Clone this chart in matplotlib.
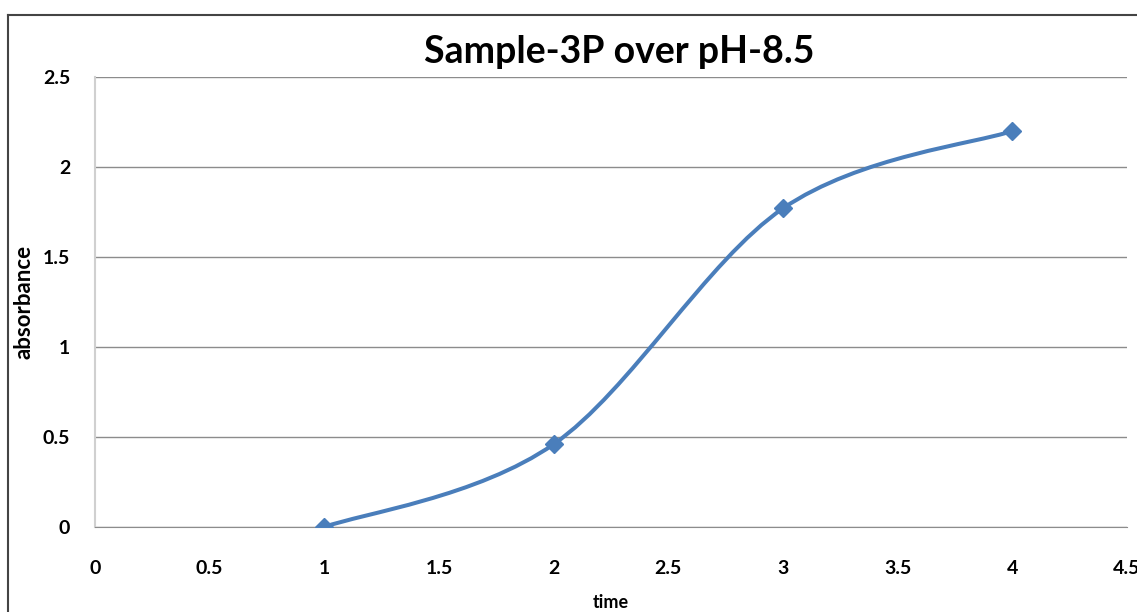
import matplotlib
matplotlib.use("Agg")
import matplotlib.pyplot as plt
import numpy as np
from matplotlib.path import Path
from matplotlib.patches import PathPatch
from matplotlib.lines import Line2D

time_vals = [1, 2, 3, 4]
absorbance = [0.0, 0.46, 1.77, 2.2]
x_ticks = [0, 0.5, 1, 1.5, 2, 2.5, 3, 3.5, 4, 4.5]
y_ticks = [0, 0.5, 1, 1.5, 2, 2.5]

plt.rcParams['font.family'] = ['Lato', 'DejaVu Sans']

fig = plt.figure(figsize=(11.37, 6.12), dpi=100)
ax = fig.add_axes([95/1137, 1-527/612, 1032/1137, 450/612])

# excel-style smoothed line: bezier segments through the points
pts = np.column_stack([time_vals, absorbance]).astype(float)
verts = [tuple(pts[0])]
codes = [Path.MOVETO]
n = len(pts)
for i in range(n-1):
    p0 = pts[max(i-1, 0)]
    p1 = pts[i]
    p2 = pts[i+1]
    p3 = pts[min(i+2, n-1)]
    c1 = p1 + (p2 - p0) / 6
    c2 = p2 - (p3 - p1) / 6
    verts += [tuple(c1), tuple(c2), tuple(p2)]
    codes += [Path.CURVE4] * 3
ax.add_patch(PathPatch(Path(verts, codes), fill=False, edgecolor='#4a7ebb',
                       lw=2.9, zorder=3, capstyle='round'))
ax.plot(time_vals, absorbance, linestyle='none', marker='D', ms=9.5,
        color='#4a7ebb', zorder=4)

ax.set_xlim(0, 4.5)
ax.set_ylim(0, 2.5)
ax.set_xticks(x_ticks)
ax.set_xticklabels([f"{t:g}" for t in x_ticks])
ax.set_yticks(y_ticks)
ax.set_yticklabels([f"{t:g}" for t in y_ticks])
ax.tick_params(axis='x', length=0, labelsize=14, pad=24)
ax.tick_params(axis='y', length=0, labelsize=14, pad=18)
for lbl in ax.get_xticklabels() + ax.get_yticklabels():
    lbl.set_fontweight('bold')
ax.grid(axis='y', color='#8c8c8c', lw=1)
ax.set_axisbelow(True)
for s in ['top', 'right']:
    ax.spines[s].set_visible(False)
ax.spines['left'].set_color('#d0d0d0')
ax.spines['left'].set_linewidth(1.5)
ax.spines['bottom'].set_color('#8c8c8c')

ax.set_title("Sample-3P over pH-8.5", fontsize=27, fontweight='bold', pad=10,
             x=0.508)
ax.set_ylabel("absorbance", fontsize=16, fontweight='bold')
ax.yaxis.set_label_coords((35 - 95) / 1032, 0.5)
ax.set_xlabel("time", fontsize=13, fontweight='bold', labelpad=12)

fig.lines.append(Line2D([8/1137, 8/1137], [0, 1-15/612],
                        transform=fig.transFigure, color='#444444', lw=1.5))
fig.lines.append(Line2D([8/1137, 1], [1-15/612, 1-15/612],
                        transform=fig.transFigure, color='#444444', lw=1.5))

plt.savefig("out.png", dpi=100)
